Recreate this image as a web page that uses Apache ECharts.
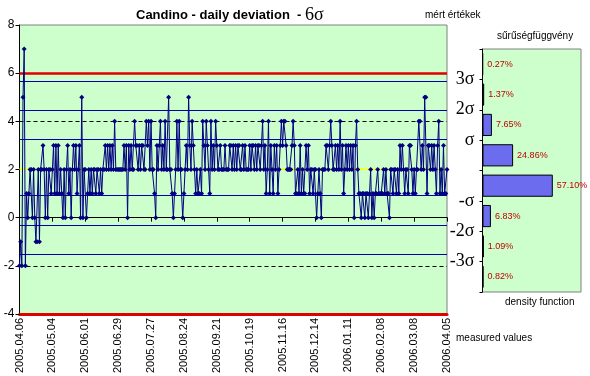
<!DOCTYPE html>
<html>
<head>
<meta charset="utf-8">
<script src="https://cdn.jsdelivr.net/npm/echarts@6/dist/echarts.min.js"></script>
<style>
html, body { margin: 0; padding: 0; background: #fff; }
#chart { width: 590px; height: 376px; }
</style>
</head>
<body>
<div id="chart"></div>
<script>
// napi eltérések, 2005.04.06 - 2006.04.05
const firstDay = '2005-04-06'
const dayCount = 365
const deviations = [
  -2, -1, -2, 5, 7, -2, 1, 0, 1, 2, 2, 0, 2, 0, -1, -1, 2, -1, 2, 2, 3, 2, 0, 2, 0, 2, 2, 1,
  2, 3, 1, 3, 1, 3, 1, 2, 1, 0, 2, 0, 2, 3, 1, 2, 0, 2, 3, 2, 3, 1, 2, 3, 0, 5, 0, 2,
  2, 0, 1, 2, 1, 2, 1, 2, 2, 1, 2, 2, 1, 2, 1, 2, 2, 3, 2, 3, 2, 3, 2, 3, 2, 4, 2, 2,
  2, 2, 2, 2, 2, 3, 2, 3, 0, 3, 2, 3, 2, 2, 4, 3, 3, 2, 3, 2, 3, 3, 2, 2, 4, 3, 4, 2,
  4, 2, 2, 1, 0, 3, 2, 3, 4, 2, 3, 2, 4, 2, 2, 5, 2, 2, 1, 0, 1, 2, 4, 2, 4, 2, 2, 0,
  1, 2, 3, 2, 5, 3, 2, 4, 3, 2, 1, 2, 1, 1, 2, 1, 4, 3, 2, 4, 3, 2, 1, 4, 2, 3, 2, 4,
  3, 2, 2, 3, 2, 2, 2, 3, 2, 2, 2, 3, 3, 2, 3, 2, 3, 2, 3, 3, 2, 2, 3, 2, 3, 2, 2, 2,
  3, 2, 3, 3, 2, 3, 2, 3, 3, 2, 3, 4, 2, 3, 1, 2, 4, 1, 3, 2, 1, 3, 2, 3, 1, 2, 3, 4,
  3, 4, 4, 3, 2, 2, 2, 2, 3, 4, 3, 1, 1, 2, 1, 3, 1, 2, 1, 1, 3, 2, 3, 1, 2, 2, 1, 2,
  2, 0, 1, 2, 1, 0, 2, 2, 2, 3, 3, 2, 3, 4, 3, 2, 2, 3, 2, 3, 2, 4, 2, 3, 1, 2, 3, 2,
  3, 2, 3, 2, 3, 0, 3, 4, 2, 1, 1, 0, 1, 1, 0, 1, 1, 0, 1, 2, 0, 1, 0, 1, 1, 2, 1, 1,
  1, 1, 2, 1, 2, 1, 1, 0, 2, 2, 1, 2, 2, 1, 2, 1, 3, 2, 3, 2, 1, 2, 2, 1, 3, 3, 2, 1,
  2, 1, 2, 2, 4, 4, 2, 3, 2, 5, 5, 1, 3, 3, 2, 3, 2, 3, 2, 1, 3, 4, 1, 2, 1, 3, 1, 1,
  2
]
// szigma szintek
const meanLevel = 2.05
const sigmaLevels = [5.67, 4.46, 3.25, 0.92, -0.30, -1.52]
const limitLevels = [6]
const dashedLevels = [4, -2]
// sűrűségfüggvény, felülről lefelé
const densityBins = ['>3σ', '2σ..3σ', 'σ..2σ', '0..σ', '-σ..0', '-2σ..-σ', '-3σ..-2σ', '<-3σ']
const densityValues = [0.27, 1.37, 7.65, 24.86, 57.10, 6.83, 1.09, 0.82]
const sigmaLabels = { 7: '3σ', 6: '2σ', 5: 'σ', 3: '-σ', 2: '-2σ', 1: '-3σ' }

const days = []
const d0 = new Date(firstDay + 'T00:00:00Z')
for (let i = 0; i < dayCount; i++) {
  const d = new Date(d0.getTime() + i * 86400000)
  const mm = String(d.getUTCMonth() + 1).padStart(2, '0')
  const dd = String(d.getUTCDate()).padStart(2, '0')
  days.push(d.getUTCFullYear() + '.' + mm + '.' + dd)
}

const sans = 'Liberation Sans, Arial, sans-serif'
const serif = 'Liberation Serif, Times New Roman, serif'

const chart = echarts.init(document.getElementById('chart'))

const levelLine = (v, color, width, type) => ({
  yAxis: v,
  lineStyle: { color: color, width: width, type: type }
})

chart.setOption({
  animation: false,
  backgroundColor: '#fff',
  title: {
    text: '{a|Candino - daily deviation  - }{b|6σ}',
    left: 131,
    top: 1,
    textStyle: {
      rich: {
        a: { fontFamily: sans, fontWeight: 'bold', fontSize: 13, color: '#000' },
        b: { fontFamily: serif, fontWeight: 'normal', fontSize: 18, color: '#000' }
      }
    }
  },
  graphic: [
    { type: 'text', left: 425, top: 10, style: { text: 'mért értékek', font: '10px ' + sans, fill: '#000' } },
    { type: 'text', left: 497, top: 31, style: { text: 'sűrűségfüggvény', font: '10px ' + sans, fill: '#000' } },
    { type: 'text', left: 505, top: 297, style: { text: 'density function', font: '10px ' + sans, fill: '#000' } },
    { type: 'text', left: 456, top: 333, style: { text: 'measured values', font: '10px ' + sans, fill: '#000' } }
  ],
  grid: [
    {
      left: 19.5, right: 143, top: 25, bottom: 56,
      show: true, backgroundColor: '#ccffcc', borderColor: '#808080', borderWidth: 1
    },
    {
      left: 482.5, right: 9, top: 49, bottom: 84,
      show: true, backgroundColor: '#ccffcc', borderColor: '#808080', borderWidth: 1
    }
  ],
  xAxis: [
    {
      type: 'category', gridIndex: 0, data: days, boundaryGap: false, position: 'bottom',
      axisLine: { onZero: false, lineStyle: { color: '#e00000', width: 3 } },
      axisTick: { show: false },
      axisLabel: {
        interval: 27, rotate: 90, margin: 4,
        fontFamily: sans, fontSize: 11, color: '#000'
      },
      splitLine: { show: false }
    },
    {
      type: 'category', gridIndex: 0, data: days, boundaryGap: false, position: 'bottom',
      axisLine: { onZero: true, lineStyle: { color: '#000', width: 1 } },
      axisTick: { show: true, interval: 27, length: 4, lineStyle: { color: '#000' } },
      axisLabel: { show: false },
      splitLine: { show: false }
    },
    {
      type: 'value', gridIndex: 1, min: 0, max: 80, show: false
    }
  ],
  yAxis: [
    {
      type: 'value', gridIndex: 0, min: -4, max: 8, interval: 2,
      axisLine: { show: true, onZero: false, lineStyle: { color: '#000', width: 1 } },
      axisTick: { show: true, length: 4, lineStyle: { color: '#000' } },
      axisLabel: { fontFamily: sans, fontSize: 12, color: '#000', margin: 5 },
      splitLine: { show: false }
    },
    {
      type: 'category', gridIndex: 1, data: densityBins, inverse: true,
      axisLine: { show: true, lineStyle: { color: '#000', width: 1 } },
      axisTick: { show: true, length: 3, lineStyle: { color: '#000' } },
      axisLabel: { show: false },
      splitLine: { show: false }
    },
    {
      type: 'value', gridIndex: 1, position: 'left', min: 0, max: 8, interval: 1,
      axisLine: { show: false },
      axisTick: { show: false },
      splitLine: { show: false },
      axisLabel: {
        margin: 8, fontFamily: serif, fontSize: 18, color: '#000',
        formatter: v => sigmaLabels[v] || ''
      }
    }
  ],
  series: [
    {
      name: 'levels',
      type: 'line',
      xAxisIndex: 0,
      yAxisIndex: 0,
      data: [],
      z: 1,
      silent: true,
      markLine: {
        silent: true,
        symbol: 'none',
        z: 1,
        label: { show: false },
        data: [
          ...dashedLevels.map(v => levelLine(v, '#000', 1, [4, 3])),
          ...sigmaLevels.map(v => levelLine(v, '#0000b0', 1.2, 'solid')),
          levelLine(meanLevel, '#ffff00', 1.5, 'solid'),
          ...limitLevels.map(v => levelLine(v, '#e00000', 2.5, 'solid'))
        ]
      }
    },
    {
      name: 'mért értékek',
      type: 'line',
      xAxisIndex: 0,
      yAxisIndex: 0,
      data: deviations,
      z: 3,
      symbol: 'diamond',
      symbolSize: 5,
      showAllSymbol: true,
      itemStyle: { color: '#000080' },
      lineStyle: { color: '#000080', width: 1 }
    },
    {
      name: 'sűrűségfüggvény',
      type: 'bar',
      xAxisIndex: 2,
      yAxisIndex: 1,
      data: densityValues,
      barCategoryGap: '27%',
      itemStyle: { color: '#6c6cee', borderColor: '#000', borderWidth: 1 },
      label: {
        show: true, position: 'right', distance: 4,
        fontFamily: sans, fontSize: 9, color: '#c00000',
        formatter: p => p.value.toFixed(2) + '%'
      }
    }
  ]
})
</script>
</body>
</html>
